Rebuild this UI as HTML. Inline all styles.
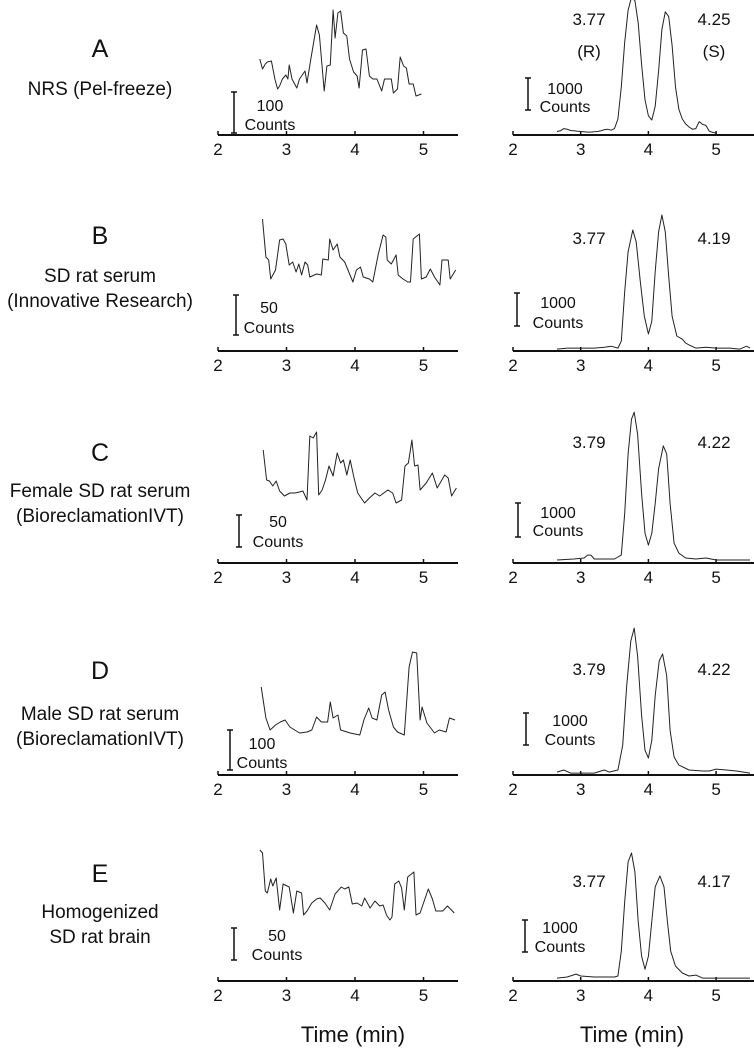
<!DOCTYPE html>
<html><head><meta charset="utf-8">
<style>
html,body{margin:0;padding:0;background:#fff;}
svg{display:block;font-family:"Liberation Sans",Arial,sans-serif;}
</style></head>
<body>
<svg id="fig" width="754" height="1050" viewBox="0 0 754 1050" xmlns="http://www.w3.org/2000/svg">
<rect width="754" height="1050" fill="#fff"/>
<g fill="#111" text-anchor="middle">
<text x="100" y="57" font-size="25">A</text>
<text x="100" y="95" font-size="19">NRS (Pel-freeze)</text>
<text x="100" y="244" font-size="25">B</text>
<text x="100" y="282" font-size="19">SD rat serum</text>
<text x="100" y="307" font-size="19">(Innovative Research)</text>
<text x="100" y="461" font-size="25">C</text>
<text x="100" y="497" font-size="19">Female SD rat serum</text>
<text x="100" y="522" font-size="19">(BioreclamationIVT)</text>
<text x="100" y="679" font-size="25">D</text>
<text x="100" y="720" font-size="19">Male SD rat serum</text>
<text x="100" y="745" font-size="19">(BioreclamationIVT)</text>
<text x="100" y="882" font-size="25">E</text>
<text x="100" y="918" font-size="19">Homogenized</text>
<text x="100" y="943" font-size="19">SD rat brain</text>
<text x="353" y="1042" font-size="22">Time (min)</text>
<text x="632" y="1042" font-size="22">Time (min)</text>
</g>
</svg>
<script>
// ---- data (time in min, signal intensity) ----
const tickLabels = ["2","3","4","5"];
const tickValues = [2,3,4,5];
const leftA_t = [2.61,2.65,2.69,2.72,2.78,2.83,2.87,2.90,2.94,2.99,3.02,3.04,3.08,3.15,3.19,3.27,3.30,3.35,3.44,3.48,3.55,3.59,3.64,3.68,3.71,3.75,3.79,3.83,3.88,3.92,3.98,4.03,4.06,4.11,4.16,4.21,4.26,4.32,4.39,4.43,4.53,4.56,4.62,4.66,4.71,4.75,4.79,4.85,4.89,4.93,4.97];
const leftA_v = [76,66,71,73,74,56,46,49,56,60,56,70,56,47,56,64,52,74,110,100,44,69,70,125,97,122,124,102,99,76,63,59,47,85,86,59,56,56,44,56,56,42,46,78,69,67,51,51,39,40,41];
const leftB_t = [2.65,2.70,2.74,2.77,2.84,2.90,2.95,2.99,3.04,3.09,3.14,3.18,3.22,3.27,3.31,3.34,3.44,3.51,3.53,3.61,3.63,3.68,3.74,3.78,3.85,3.97,4.02,4.08,4.12,4.21,4.26,4.34,4.41,4.45,4.47,4.53,4.60,4.63,4.70,4.77,4.81,4.85,4.94,4.97,5.04,5.10,5.16,5.24,5.27,5.36,5.39,5.47];
const leftB_v = [132,94,91,72,81,111,112,107,86,89,79,87,76,89,86,74,77,76,92,91,112,101,107,94,89,69,81,84,74,72,69,97,116,114,91,87,96,76,72,69,69,112,117,72,74,82,74,66,91,91,72,81];
const leftC_t = [2.66,2.71,2.75,2.80,2.85,2.90,2.97,3.05,3.12,3.19,3.24,3.30,3.34,3.39,3.44,3.47,3.52,3.57,3.62,3.68,3.74,3.79,3.83,3.88,3.93,3.98,4.04,4.14,4.21,4.29,4.36,4.48,4.55,4.60,4.68,4.73,4.78,4.83,4.87,4.92,4.95,5.04,5.13,5.20,5.31,5.36,5.41,5.48];
const leftC_v = [113,83,82,77,82,72,67,70,70,71,72,63,127,125,131,68,73,83,97,87,110,100,103,88,103,87,70,60,65,70,67,73,70,60,63,97,100,123,97,98,73,80,90,75,88,85,67,75];
const leftD_t = [2.63,2.70,2.76,2.84,2.91,2.98,3.05,3.12,3.19,3.30,3.37,3.44,3.51,3.60,3.64,3.68,3.75,3.79,3.93,4.07,4.13,4.20,4.25,4.32,4.39,4.44,4.49,4.56,4.62,4.72,4.79,4.84,4.90,4.95,4.98,5.05,5.16,5.23,5.33,5.38,5.46];
const leftD_v = [88,57,45,50,53,55,48,45,42,43,45,58,53,53,73,57,60,45,42,40,55,67,57,55,80,83,65,48,43,40,108,123,122,55,68,52,42,45,43,57,55];
const leftE_t = [2.61,2.65,2.69,2.72,2.77,2.80,2.85,2.90,2.95,3.04,3.10,3.15,3.22,3.25,3.30,3.37,3.44,3.49,3.56,3.63,3.71,3.80,3.85,3.91,3.96,4.03,4.10,4.14,4.22,4.29,4.36,4.41,4.46,4.51,4.54,4.58,4.64,4.68,4.72,4.77,4.86,4.89,4.95,5.07,5.13,5.18,5.28,5.35,5.45];
const leftE_v = [131,128,90,88,102,95,103,71,97,94,68,90,88,66,70,78,82,83,78,71,87,94,92,94,77,78,75,83,73,80,75,76,66,61,64,97,100,93,71,104,109,66,68,92,82,70,70,75,68];
const rightA_t = [2.65,2.7,2.75,2.8,2.85,2.9,2.95,3.0,3.05,3.1,3.15,3.2,3.25,3.3,3.35,3.4,3.45,3.5,3.55,3.6,3.65,3.7,3.75,3.8,3.85,3.9,3.95,4.0,4.05,4.1,4.15,4.2,4.25,4.3,4.35,4.4,4.45,4.5,4.55,4.6,4.65,4.7,4.75,4.8,4.85,4.9,4.95,5.0];
const rightA_v = [110,130,200,180,140,130,120,110,100,90,90,100,110,130,170,180,150,200,500,1500,2900,3900,4300,4200,3500,2200,1100,600,470,900,2000,3300,3850,3700,2800,1500,800,500,350,250,180,200,420,330,300,120,80,60];
const rightB_t = [2.65,2.8,3.0,3.2,3.35,3.45,3.55,3.6,3.65,3.7,3.77,3.82,3.88,3.94,4.0,4.05,4.1,4.15,4.2,4.25,4.3,4.35,4.42,4.5,4.55,4.6,4.7,4.85,5.0,5.2,5.35,5.45,5.5];
const rightB_v = [60,90,90,90,120,150,90,310,1860,3100,3780,3410,2170,1090,530,930,2480,3720,4250,3720,2330,1090,470,370,250,190,90,120,90,90,60,150,90];
const rightC_t = [2.65,2.9,3.05,3.1,3.15,3.2,3.5,3.6,3.65,3.7,3.75,3.79,3.84,3.9,3.95,4.0,4.05,4.1,4.15,4.22,4.27,4.32,4.38,4.45,4.55,4.7,4.85,5.0,5.5];
const rightC_v = [93,124,155,248,248,124,124,248,1550,3410,4495,4712,4030,2170,930,558,930,1860,2945,3658,3410,1860,620,310,155,124,155,93,93];
const rightD_t = [2.65,2.75,2.85,3.0,3.2,3.35,3.42,3.55,3.62,3.68,3.74,3.79,3.84,3.9,3.95,4.0,4.05,4.1,4.16,4.21,4.27,4.32,4.38,4.45,4.6,4.8,4.9,5.0,5.15,5.3,5.5];
const rightD_v = [90,155,60,60,60,155,90,155,930,2790,4185,4590,3720,1860,775,530,1085,2480,3565,3780,3100,1395,560,310,155,125,125,185,155,125,60];
const rightE_t = [2.65,2.8,2.93,3.0,3.2,3.5,3.55,3.6,3.65,3.7,3.75,3.8,3.85,3.9,3.95,4.0,4.05,4.1,4.17,4.23,4.28,4.33,4.4,4.5,4.6,4.7,4.8,5.0,5.5];
const rightE_v = [90,125,215,155,125,125,155,930,2480,3720,4000,3410,1860,775,370,775,1860,2945,3285,2945,1860,930,465,250,155,185,90,90,90];
const peakLabelsR = [["3.77","4.25"],["3.77","4.19"],["3.79","4.22"],["3.79","4.22"],["3.77","4.17"]];
const leftBarCounts = ["100","50","50","100","50"];
const rowNames = ["a","b","c","d","e"];

// ---- layout ----
const NS = "http://www.w3.org/2000/svg";
const svg = document.getElementById("fig");
const axisY = [135,351,563,775,981];
const leftX = t => 218 + (t-2)*68.5;
const rightX = t => 513 + (t-2)*67.7;
const leftK = [1,1,1,1,1];
const rightK = 1/31.25;
const leftBars = [[234,92,133,270,105,124],[236,295,335,269,307,327],[239,515,547,278,521,541],[230,730,770,262,743,762],[234,928,960,277,935,954]];
const rightBars = [[528,78,110,565,88,106],[517,293,326,558,302,322],[518,503,537,558,512,530],[526,713,745,570,720,739],[525,920,952,560,927,946]];
const peakY = [19,238,442,669,881];
const leftT = [leftA_t,leftB_t,leftC_t,leftD_t,leftE_t];
const leftV = [leftA_v,leftB_v,leftC_v,leftD_v,leftE_v];
const rightT = [rightA_t,rightB_t,rightC_t,rightD_t,rightE_t];
const rightV = [rightA_v,rightB_v,rightC_v,rightD_v,rightE_v];

function mk(tag, attrs){ const e=document.createElementNS(NS,tag); for(const k in attrs) e.setAttribute(k,attrs[k]); svg.appendChild(e); return e; }
function txt(x,y,s,size){ const e=mk("text",{x:x,y:y,"font-size":size,"text-anchor":"middle",fill:"#111"}); e.textContent=s; return e; }

for(let r=0;r<5;r++){
  const y0=axisY[r], n=rowNames[r];
  const axL = mk("line",{x1:218,x2:458,y1:y0,y2:y0,stroke:"#111","stroke-width":2});
  
  
  const axR = mk("line",{x1:513,x2:754,y1:y0,y2:y0,stroke:"#111","stroke-width":2});
  
  
  for(let i=0;i<tickValues.length;i++){
    const xl=leftX(tickValues[i]), xr=rightX(tickValues[i]);
    const tl=mk("line",{x1:xl,x2:xl,y1:y0-4,y2:y0,stroke:"#111","stroke-width":1.5});
    
    
    const tr=mk("line",{x1:xr,x2:xr,y1:y0-4,y2:y0,stroke:"#111","stroke-width":1.5});
    
    
    const ll=txt(xl,y0+20,tickLabels[i],17);
    
    
    const lr=txt(xr,y0+20,tickLabels[i],17);
    
    
  }
  const pl = leftT[r].map((t,i)=>leftX(t).toFixed(1)+","+(y0-leftV[r][i]*leftK[r]).toFixed(1)).join(" ");
  const lineL = mk("polyline",{points:pl,fill:"none",stroke:"#222","stroke-width":1,"stroke-linejoin":"round"});
  
  
  const pr = rightT[r].map((t,i)=>rightX(t).toFixed(1)+","+(y0-rightV[r][i]*rightK).toFixed(1)).join(" ");
  const lineR = mk("polyline",{points:pr,fill:"none",stroke:"#222","stroke-width":1,"stroke-linejoin":"round"});
  
  
  const b=leftBars[r];
  const sb=mk("path",{d:`M${b[0]-3},${b[1]}H${b[0]+3}M${b[0]},${b[1]}V${b[2]}M${b[0]-3},${b[2]}H${b[0]+3}`,stroke:"#111","stroke-width":1.5,fill:"none"});
  
  
  const s1=txt(b[3],b[4]+6,leftBarCounts[r],16);
  
  
  const s2=txt(b[3],b[5]+6,"Counts",16);
  
  
  const c=rightBars[r];
  const sr=mk("path",{d:`M${c[0]-3},${c[1]}H${c[0]+3}M${c[0]},${c[1]}V${c[2]}M${c[0]-3},${c[2]}H${c[0]+3}`,stroke:"#111","stroke-width":1.5,fill:"none"});
  
  
  const s3=txt(c[3],c[4]+6,"1000",16);
  
  
  const s4=txt(c[3],c[5]+6,"Counts",16);
  
  
  const p1=txt(589,peakY[r]+6,peakLabelsR[r][0],17);
  
  
  const p2=txt(714,peakY[r]+6,peakLabelsR[r][1],17);
  
  
}
const er=txt(589,57,"(R)",17);


const es=txt(714,57,"(S)",17);


</script>
</body></html>
